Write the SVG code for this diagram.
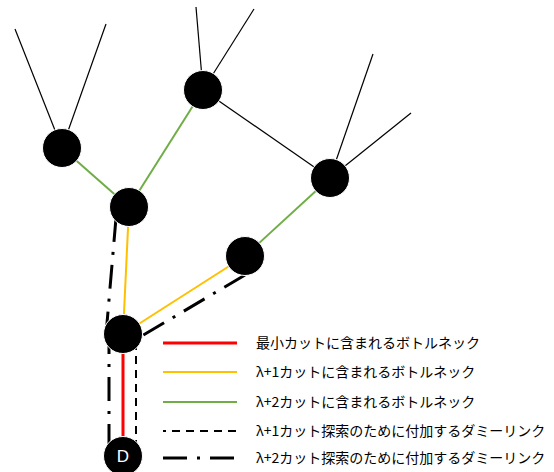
<svg xmlns="http://www.w3.org/2000/svg" width="554" height="472" viewBox="0 0 554 472">
<style>
.thin{stroke:#000;stroke-width:1.2;fill:none}
.green{stroke:#70ad47;stroke-width:2;fill:none}
.yellow{stroke:#ffc000;stroke-width:2;fill:none}
.red{stroke:#ff0000;stroke-width:3;fill:none}
.dash{stroke:#000;stroke-width:2;fill:none;stroke-dasharray:8 6}
.dashdot{stroke:#000;stroke-width:3;fill:none;stroke-dasharray:24 10 3 10}
.node{fill:#000;stroke:#fff;stroke-width:1}
.lbl{font-family:"Noto Sans CJK JP","Liberation Sans",sans-serif;font-size:14px;fill:#000}
.d{font-family:"Liberation Sans",sans-serif;font-size:17px;fill:#fff}
</style>
<rect width="554" height="472" fill="#fff"/>
<g id="connectors">
<line class="thin" x1="15" y1="29" x2="62" y2="148"/>
<line class="thin" x1="106" y1="24" x2="62" y2="148"/>
<line class="thin" x1="196" y1="7" x2="203" y2="90"/>
<line class="thin" x1="254" y1="9" x2="203" y2="90"/>
<line class="thin" x1="203" y1="90" x2="330" y2="178"/>
<line class="thin" x1="373" y1="54" x2="330" y2="178"/>
<line class="thin" x1="411" y1="113" x2="330" y2="178"/>
<line class="green" x1="62" y1="148" x2="129" y2="207"/>
<line class="green" x1="129" y1="207" x2="203" y2="90"/>
<line class="green" x1="330" y1="178" x2="245" y2="256"/>
<line class="yellow" x1="129" y1="207" x2="123" y2="334"/>
<line class="yellow" x1="245" y1="256" x2="123" y2="334"/>
<line class="dashdot" x1="116" y1="218" x2="106" y2="335"/>
<line class="dashdot" x1="245" y1="275" x2="140" y2="337"/>
<line class="dashdot" x1="109" y1="340" x2="109" y2="445" stroke-dashoffset="10"/>
<line class="dash" x1="136" y1="342" x2="136" y2="445"/>
<line class="red" x1="123" y1="334" x2="123" y2="456"/>
</g>
<g id="n1"><circle class="node" cx="62" cy="148" r="19.5"/></g>
<g id="n2"><circle class="node" cx="203" cy="90" r="19.5"/></g>
<g id="n3"><circle class="node" cx="129" cy="207" r="19.5"/></g>
<g id="n4"><circle class="node" cx="330" cy="178" r="19.5"/></g>
<g id="n5"><circle class="node" cx="245" cy="256" r="19.5"/></g>
<g id="n6"><circle class="node" cx="123" cy="334" r="19.5"/></g>
<g id="nD"><circle class="node" cx="123" cy="456" r="19.5"/><text class="d" x="123" y="462" text-anchor="middle">D</text></g>
<g id="legend">
<line class="red" x1="163" y1="343" x2="237" y2="343"/>
<line class="yellow" x1="163" y1="372" x2="237" y2="372"/>
<line class="green" x1="163" y1="402" x2="237" y2="402"/>
<line class="dash" x1="163" y1="431" x2="237" y2="431" stroke-dashoffset="5"/>
<line class="dashdot" x1="163" y1="458" x2="237" y2="458"/>
<text class="lbl" x="256" y="348">最小カットに含まれるボトルネック</text>
<text class="lbl" x="256" y="377">λ+1カットに含まれるボトルネック</text>
<text class="lbl" x="256" y="407">λ+2カットに含まれるボトルネック</text>
<text class="lbl" x="256" y="436">λ+1カット探索のために付加するダミーリンク</text>
<text class="lbl" x="256" y="463">λ+2カット探索のために付加するダミーリンク</text>
</g>
</svg>
